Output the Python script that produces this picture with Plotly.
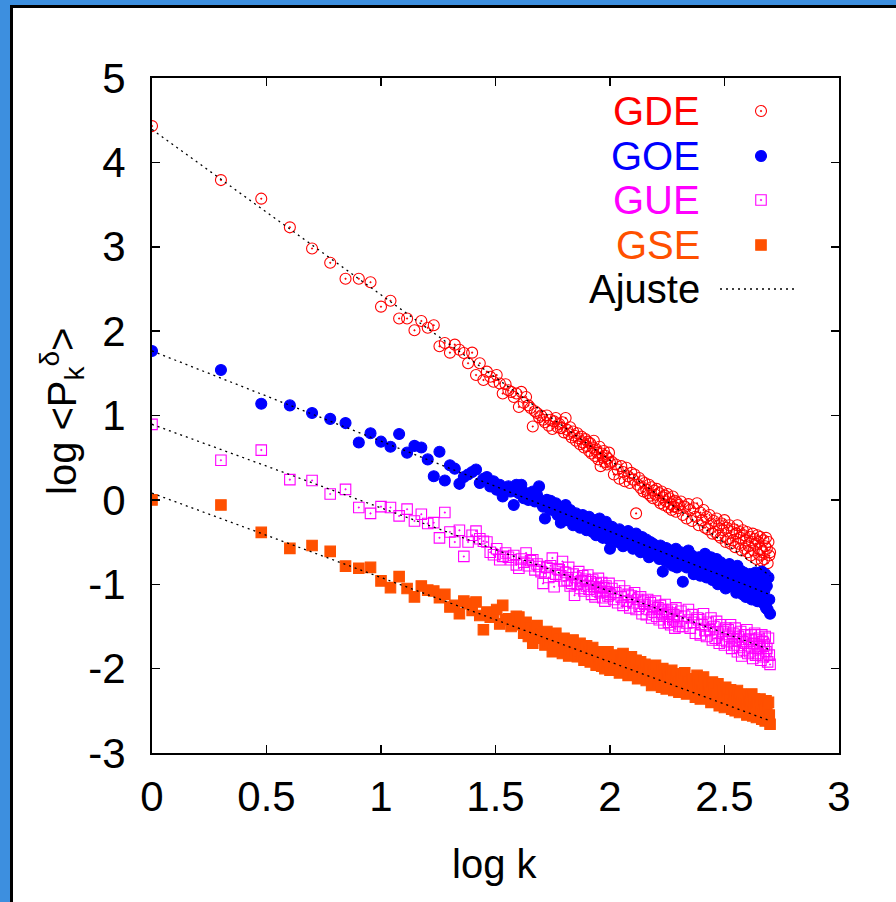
import plotly.graph_objects as go
import math

# ---------------- data ----------------
K = list(range(1, 101)) + list(range(102, 201, 2)) + list(range(204, 501, 4))

GDE = [4.43, 3.79, 3.57, 3.23, 2.98, 2.81, 2.62, 2.62, 2.58, 2.29,
       2.36, 2.15, 2.15, 2.01, 2.12, 2.04, 2.07, 1.82,
       1.86, 1.745, 1.84, 1.78, 1.74, 1.62, 1.745, 1.48, 1.62, 1.42,
       1.52, 1.46, 1.40, 1.48, 1.38, 1.26, 1.37, 1.30, 1.28, 1.22,
       1.26, 1.10, 1.28, 1.15, 1.22, 1.12, 1.09, 0.87, 1.05, 1.03,
       0.98, 1.00, 0.95,
       0.92, 1.00, 0.88, 0.95, 0.84, 0.93, 0.97, 0.86, 0.90,
       0.85, 0.92, 0.80, 0.97, 0.83, 0.78, 0.86, 0.74, 0.81, 0.76,
       0.70, 0.79, 0.73, 0.66, 0.75, 0.68, 0.62, 0.72, 0.64, 0.69,
       0.58, 0.67, 0.55, 0.62, 0.70, 0.52, 0.60, 0.56, 0.48, 0.63,
       0.40, 0.55, 0.50, 0.58, 0.45, 0.52, 0.42, 0.49, 0.56, 0.44,
       # k = 102..200 step 2
       0.45, 0.30, 0.42, 0.36, 0.25, 0.40, 0.33, 0.22, 0.38, 0.28,
       0.20, 0.32, 0.24, 0.30, -0.16, 0.18, 0.26, 0.14, 0.22, 0.10,
       0.20, 0.12, 0.08, 0.18, 0.05, 0.15, 0.02, 0.11, 0.06, 0.13,
       0.00, 0.08, -0.04, 0.10, 0.03, -0.06, 0.05, -0.02, 0.07, -0.09,
       0.02, -0.05, -0.12, 0.04, -0.08, -0.01, -0.14, -0.03, -0.10, -0.06,
       # k = 204..500 step 4
       -0.02, -0.18, -0.08, -0.22, -0.05,
       -0.12, -0.25, -0.10, -0.20, -0.04,
       -0.30, -0.15, -0.24, -0.12, -0.33,
       -0.20, -0.35, -0.18, -0.28, -0.40,
       -0.25, -0.38, -0.22, -0.42, -0.30,
       -0.45, -0.28, -0.36, -0.24, -0.50,
       -0.33, -0.46, -0.30, -0.52, -0.38,
       -0.48, -0.35, -0.56, -0.40, -0.30,
       -0.52, -0.38, -0.45, -0.60, -0.36,
       -0.42, -0.58, -0.48, -0.38, -0.62,
       -0.55, -0.44, -0.66, -0.50, -0.40,
       -0.60, -0.46, -0.52, -0.70, -0.42,
       -0.50, -0.65, -0.44, -0.58, -0.72,
       -0.62, -0.48, -0.70, -0.55, -0.45,
       -0.58, -0.75, -0.50, -0.66, -0.62]

GOE = [1.765, 1.54, 1.14, 1.12, 1.03, 0.96, 0.91, 0.68, 0.79, 0.69,
       0.63, 0.78, 0.56, 0.64, 0.62, 0.48, 0.28, 0.57,
       0.23, 0.41, 0.37, 0.19, 0.27, 0.30, 0.33, 0.36, 0.20, 0.25,
       0.27, 0.16, 0.22, 0.12, 0.18, 0.04, 0.14, 0.16, 0.10, -0.06,
       0.18, 0.08, 0.18, 0.02, 0.08, 0.00, 0.04, 0.10, -0.02, 0.06,
       0.16, -0.04, -0.08, -0.22, 0.00, -0.10, -0.01, -0.12, -0.07, -0.04,
       -0.18, -0.15,
       -0.27, -0.10, -0.20, -0.06, -0.24, -0.15, -0.12, -0.22, -0.30, -0.18,
       -0.16, -0.28, -0.20, -0.33, -0.24, -0.18, -0.30, -0.22, -0.36, -0.26,
       -0.20, -0.34, -0.28, -0.38, -0.24, -0.31, -0.42, -0.27, -0.33, -0.22,
       -0.36, -0.28, -0.45, -0.32, -0.40, -0.26, -0.38, -0.34, -0.47, -0.58,
       # k = 102..200 step 2
       -0.32, -0.45, -0.38, -0.50, -0.35, -0.43, -0.55, -0.40, -0.48, -0.37,
       -0.52, -0.42, -0.58, -0.46, -0.40, -0.55, -0.48, -0.62, -0.44, -0.53,
       -0.60, -0.47, -0.56, -0.68, -0.50, -0.58, -0.52, -0.64, -0.55, -0.62,
       -0.58, -0.70, -0.54, -0.66, -0.85, -0.60, -0.72, -0.57, -0.68, -0.63,
       -0.74, -0.60, -0.69, -0.78, -0.64, -0.71, -0.58, -0.80, -0.67, -0.73,
       # k = 204..500 step 4
       -0.62, -0.97, -0.70, -0.80, -0.60,
       -0.75, -0.66, -0.88, -0.70, -0.82,
       -0.68, -0.90, -0.76, -0.85, -0.64,
       -0.92, -0.72, -0.80, -0.68, -0.95,
       -0.78, -0.90, -0.70, -1.00, -0.84,
       -0.74, -0.96, -0.82, -0.90, -1.05,
       -0.80, -0.95, -0.76, -1.02, -0.86,
       -1.00, -0.82, -0.92, -1.10, -0.78,
       -0.88, -1.05, -0.84, -0.96, -1.12,
       -0.86, -1.00, -1.15, -0.90, -0.98,
       -1.08, -0.88, -0.96, -1.18, -0.92,
       -0.95, -1.10, -0.86, -1.02, -1.20,
       -1.00, -0.90, -1.15, -1.05, -0.85,
       -1.22, -0.95, -1.08, -0.88, -1.28,
       -1.02, -1.30, -0.92, -1.18, -1.35]

GUE = [0.895, 0.47, 0.59, 0.24, 0.23, 0.07, 0.125, -0.09, -0.16, -0.08,
       -0.09, -0.19, -0.11, -0.25, -0.17, -0.28, -0.27, -0.45,
       -0.15, -0.38, -0.50, -0.36, -0.67, -0.50, -0.42, -0.37, -0.46, -0.49,
       -0.50, -0.62, -0.65, -0.58, -0.71, -0.67, -0.63, -0.68, -0.71, -0.66,
       -0.77, -0.81, -0.70, -0.74, -0.63, -0.78, -0.72, -0.71, -0.83, -0.76,
       -0.79, -0.85, -0.99, -0.87, -0.80, -0.92, -0.78, -0.69, -1.03, -0.88,
       -0.82, -0.83,
       -0.90, -0.73, -0.96, -0.86, -0.95, -0.80, -1.02, -0.99, -0.88, -1.13,
       -0.92, -1.00, -0.85, -1.05, -0.96, -0.90, -1.08, -0.94, -1.02, -0.89,
       -1.06, -0.97, -1.12, -0.95, -1.03, -1.15, -0.99, -1.08, -0.93, -1.04,
       -1.10, -0.98, -1.16, -1.04, -1.20, -1.02, -1.09, -1.14, -0.99, -1.12,
       # k = 102..200 step 2
       -1.05, -1.18, -1.10, -1.22, -1.02, -1.15, -1.25, -1.08, -1.20, -1.12,
       -1.28, -1.14, -1.22, -1.10, -1.30, -1.18, -1.26, -1.15, -1.35, -1.20,
       -1.24, -1.36, -1.18, -1.30, -1.22, -1.40, -1.26, -1.33, -1.20, -1.38,
       -1.28, -1.42, -1.25, -1.35, -1.30, -1.46, -1.24, -1.38, -1.32, -1.45,
       -1.34, -1.48, -1.30, -1.42, -1.36, -1.52, -1.28, -1.44, -1.38, -1.50,
       # k = 204..500 step 4
       -1.32, -1.50, -1.38, -1.46, -1.30,
       -1.52, -1.36, -1.45, -1.58, -1.40,
       -1.42, -1.60, -1.48, -1.35, -1.55,
       -1.62, -1.45, -1.54, -1.40, -1.66,
       -1.50, -1.64, -1.44, -1.58, -1.70,
       -1.48, -1.66, -1.56, -1.72, -1.52,
       -1.68, -1.54, -1.62, -1.48, -1.76,
       -1.58, -1.72, -1.52, -1.66, -1.80,
       -1.62, -1.75, -1.56, -1.85, -1.68,
       -1.78, -1.60, -1.70, -1.54, -1.82,
       -1.65, -1.80, -1.60, -1.74, -1.88,
       -1.70, -1.58, -1.84, -1.66, -1.76,
       -1.82, -1.64, -1.74, -1.90, -1.60,
       -1.68, -1.86, -1.72, -1.62, -1.80,
       -1.76, -1.92, -1.64, -1.84, -1.95]

GSE = [0.0, -0.06, -0.385, -0.575, -0.54, -0.61, -0.785, -0.81, -0.80, -0.96,
       -1.04, -0.91, -1.05, -1.15, -1.02, -1.07, -1.08, -1.16,
       -1.12, -1.27, -1.25, -1.35, -1.20, -1.23, -1.31, -1.21, -1.37, -1.54,
       -1.33, -1.39, -1.36, -1.30, -1.47, -1.25, -1.42, -1.41, -1.50, -1.44,
       -1.38, -1.39,
       -1.48, -1.58, -1.45, -1.62, -1.52, -1.70, -1.55, -1.49, -1.64, -1.58,
       -1.60, -1.72, -1.56, -1.68, -1.62, -1.80, -1.66, -1.58, -1.74, -1.65,
       -1.70, -1.82, -1.64, -1.76, -1.69, -1.85, -1.72, -1.78, -1.66, -1.80,
       -1.74, -1.86, -1.79, -1.70, -1.84, -1.76, -1.90, -1.80, -1.73, -1.88,
       -1.78, -1.92, -1.84, -1.75, -1.89, -1.82, -1.96, -1.80, -1.87, -1.93,
       -1.85, -1.97, -1.82, -1.90, -2.00, -1.86, -1.94, -1.80, -1.91, -2.02,
       # k = 102..200 step 2
       -1.88, -2.00, -1.84, -1.95, -2.05, -1.90, -1.82, -2.02, -1.93, -2.08,
       -1.96, -1.86, -2.06, -1.98, -1.90, -2.12, -2.00, -1.92, -2.08, -2.02,
       -1.95, -2.14, -2.04, -1.98, -2.10, -2.20, -2.02, -2.12, -1.96, -2.08,
       -2.16, -2.04, -2.10, -2.22, -2.00, -2.14, -2.08, -2.24, -2.06, -2.12,
       -2.20, -2.10, -2.02, -2.18, -2.26, -2.12, -2.06, -2.22, -2.15, -2.28,
       # k = 204..500 step 4
       -2.10, -2.26, -2.05, -2.30, -2.15,
       -2.28, -2.12, -2.20, -2.34, -2.08,
       -2.18, -2.36, -2.25, -2.10, -2.30,
       -2.35, -2.20, -2.28, -2.40, -2.16,
       -2.22, -2.38, -2.30, -2.18, -2.44,
       -2.40, -2.26, -2.34, -2.46, -2.22,
       -2.28, -2.44, -2.36, -2.25, -2.48,
       -2.42, -2.30, -2.50, -2.34, -2.26,
       -2.36, -2.52, -2.30, -2.44, -2.40,
       -2.48, -2.32, -2.42, -2.55, -2.36,
       -2.38, -2.52, -2.45, -2.30, -2.56,
       -2.50, -2.36, -2.44, -2.58, -2.40,
       -2.42, -2.56, -2.36, -2.50, -2.60,
       -2.54, -2.40, -2.48, -2.62, -2.38,
       -2.45, -2.60, -2.40, -2.55, -2.66]

# fitted lines ("Ajuste"): intercept and slope
FIT_INTERCEPT = [4.39, 1.765, 0.895, 0.08]
FIT_SLOPE = [-1.96, -1.07, -0.99, -1.00]

SERIES_NAMES = ["GDE", "GOE", "GUE", "GSE"]
X_TICKS = [0, 0.5, 1, 1.5, 2, 2.5, 3]
X_TICKTEXT = ["0", "0.5", "1", "1.5", "2", "2.5", "3"]
Y_TICKS = [5, 4, 3, 2, 1, 0, -1, -2, -3]
Y_TICKTEXT = ["5", "4", "3", "2", "1", "0", "-1", "-2", "-3"]

# ---------------- styling ----------------
W, H = 896, 902
ML, MR, MT, MB = 152, 57, 78, 149
PW, PH = W - ML - MR, H - MT - MB
FONT = "Liberation Sans Narrow, Liberation Sans, Arial, sans-serif"
COLORS = ["#ff0000", "#0000ff", "#ff00ff", "#ff5000"]
SYMBOLS = ["circle-open-dot", "circle", "square-open-dot", "square"]
MSIZE = [11, 11, 10.5, 10.5]
FS = 40


def px_x(p):
    return (p - ML) / PW


def px_y(p):
    return (H - MB - p) / PH


logk = [math.log10(k) for k in K]
data = [GDE, GOE, GUE, GSE]
for d in data:
    assert len(d) == len(K), len(d)

fig = go.Figure()
for name, vals, col, sym, ms in zip(SERIES_NAMES, data, COLORS, SYMBOLS, MSIZE):
    fig.add_trace(go.Scatter(
        x=logk, y=vals, mode="markers", name=name, showlegend=False,
        marker=dict(symbol=sym, size=ms, color=col, line=dict(width=1.1, color=col)),
    ))

xmax = max(logk)
for a, b in zip(FIT_INTERCEPT, FIT_SLOPE):
    fig.add_trace(go.Scatter(
        x=[0, xmax], y=[a, a + b * xmax], mode="lines", showlegend=False,
        line=dict(color="black", width=1.3, dash="2px,4px"),
    ))

# ---- manual key (text on the left, sample on the right, like gnuplot) ----
KEY_TEXT_X = 702
KEY_SAMPLE_X = 761
KEY_ROWS_Y = [111, 156, 200, 245, 289]
annotations = []
for i, name in enumerate(SERIES_NAMES + ["Ajuste"]):
    annotations.append(dict(
        xref="paper", yref="paper", x=px_x(KEY_TEXT_X), y=px_y(KEY_ROWS_Y[i]),
        xanchor="right", yanchor="middle", showarrow=False, text=name,
        font=dict(family=FONT, size=FS, color=(COLORS + ["black"])[i]),
    ))


def dx(p):
    return (p - ML) / PW * 3.0


def dy(p):
    return 5 - (p - MT) / PH * 8.0


for i in range(4):
    fig.add_trace(go.Scatter(
        x=[dx(KEY_SAMPLE_X)], y=[dy(KEY_ROWS_Y[i])], mode="markers", showlegend=False,
        marker=dict(symbol=SYMBOLS[i], size=MSIZE[i], color=COLORS[i],
                    line=dict(width=1.1, color=COLORS[i])),
    ))
fig.add_trace(go.Scatter(
    x=[dx(720), dx(798)], y=[dy(KEY_ROWS_Y[4])] * 2, mode="lines", showlegend=False,
    line=dict(color="black", width=1.3, dash="2px,4px"),
))

# axis titles
annotations.append(dict(
    xref="paper", yref="paper", x=px_x(494), y=px_y(864), showarrow=False,
    text="log k", xanchor="center", yanchor="middle",
    font=dict(family=FONT, size=FS, color="black"),
))
annotations.append(dict(
    xref="paper", yref="paper", x=px_x(62), y=px_y(412), showarrow=False,
    text="log &lt;P<sub>k</sub><sup>δ</sup>&gt;", textangle=-90,
    xanchor="center", yanchor="middle",
    font=dict(family=FONT, size=FS, color="black"),
))

BLUE = "#3d8fdf"
shapes = [
    dict(type="rect", xref="paper", yref="paper", x0=px_x(0), x1=px_x(10),
         y0=px_y(H), y1=px_y(0), fillcolor=BLUE, line=dict(width=0), layer="below"),
    dict(type="rect", xref="paper", yref="paper", x0=px_x(0), x1=px_x(W),
         y0=px_y(5), y1=px_y(0), fillcolor=BLUE, line=dict(width=0), layer="below"),
    dict(type="rect", xref="paper", yref="paper", x0=px_x(10), x1=px_x(13),
         y0=px_y(H), y1=px_y(5), fillcolor="black", line=dict(width=0), layer="below"),
    dict(type="rect", xref="paper", yref="paper", x0=px_x(10), x1=px_x(W),
         y0=px_y(8), y1=px_y(5), fillcolor="black", line=dict(width=0), layer="below"),
]

axis_common = dict(
    showgrid=False, zeroline=False, showline=True, linecolor="black", linewidth=2,
    mirror="ticks", ticks="inside", ticklen=8, tickwidth=1.5, tickcolor="black",
    tickfont=dict(family=FONT, size=42, color="black"),
)

fig.update_layout(
    width=W, height=H,
    margin=dict(l=ML, r=MR, t=MT, b=MB, autoexpand=False),
    paper_bgcolor="white", plot_bgcolor="white",
    xaxis=dict(range=[0, 3], tickvals=X_TICKS, ticktext=X_TICKTEXT,
               ticklabelstandoff=6, **axis_common),
    yaxis=dict(range=[-3, 5], tickvals=Y_TICKS, ticktext=Y_TICKTEXT,
               ticklabelstandoff=16, **axis_common),
    annotations=annotations, shapes=shapes, showlegend=False,
    hovermode=False,
)

fig.write_html(
    "out.html",
    config={"displayModeBar": False, "staticPlot": True},
    post_script="document.body.style.margin='0';document.body.style.overflow='hidden';",
)
